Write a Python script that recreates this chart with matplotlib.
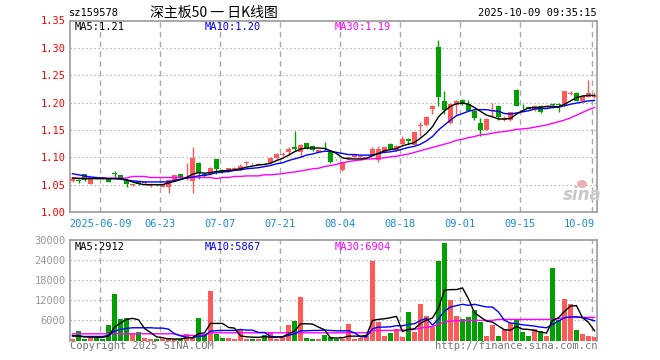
import matplotlib
matplotlib.use("Agg")
import matplotlib.pyplot as plt
import numpy as np

# ---------------- data ----------------
dates = ['2025-06-09', '06-23', '07-07', '07-21', '08-04', '08-18', '09-01', '09-15', '10-09']
date_idx = [5, 15, 25, 35, 45, 55, 65, 75, 87]

opens = [1.057, 1.058, 1.069, 1.052, 1.062, 1.063, 1.061, 1.070, 1.067, 1.059,
         1.049, 1.056, 1.053, 1.047, 1.050, 1.046, 1.045, 1.058, 1.069, 1.061,
         1.056, 1.090, 1.070, 1.069, 1.096, 1.077, 1.075, 1.078, 1.078, 1.089,
         1.088, 1.086, 1.088, 1.090, 1.098, 1.105, 1.109, 1.118, 1.109, 1.126,
         1.121, 1.110, 1.117, 1.109, 1.097, 1.077, 1.098, 1.101, 1.100, 1.098,
         1.103, 1.095, 1.110, 1.124, 1.112, 1.124, 1.133, 1.123, 1.157, 1.159,
         1.188, 1.301, 1.203, 1.163, 1.196, 1.204, 1.198, 1.185, 1.162, 1.150,
         1.184, 1.194, 1.168, 1.168, 1.223, 1.194, 1.191, 1.188, 1.194, 1.192,
         1.197, 1.196, 1.196, 1.216, 1.217, 1.203, 1.211, 1.210]
highs = [1.062, 1.059, 1.070, 1.061, 1.063, 1.064, 1.062, 1.075, 1.068, 1.060,
         1.052, 1.057, 1.056, 1.050, 1.051, 1.052, 1.060, 1.068, 1.070, 1.090,
         1.118, 1.091, 1.071, 1.082, 1.097, 1.078, 1.081, 1.083, 1.088, 1.093,
         1.089, 1.089, 1.090, 1.100, 1.107, 1.109, 1.118, 1.148, 1.124, 1.127,
         1.122, 1.114, 1.128, 1.110, 1.097, 1.093, 1.101, 1.105, 1.104, 1.101,
         1.119, 1.120, 1.119, 1.126, 1.122, 1.139, 1.136, 1.147, 1.164, 1.176,
         1.195, 1.315, 1.221, 1.199, 1.205, 1.206, 1.205, 1.186, 1.171, 1.171,
         1.200, 1.195, 1.175, 1.183, 1.224, 1.197, 1.192, 1.195, 1.195, 1.196,
         1.200, 1.200, 1.222, 1.221, 1.220, 1.213, 1.241, 1.220]
lows = [1.055, 1.053, 1.056, 1.051, 1.060, 1.061, 1.054, 1.064, 1.062, 1.046,
        1.048, 1.049, 1.052, 1.046, 1.048, 1.045, 1.034, 1.057, 1.062, 1.058,
        1.035, 1.060, 1.064, 1.068, 1.069, 1.072, 1.074, 1.077, 1.077, 1.086,
        1.087, 1.085, 1.086, 1.089, 1.097, 1.102, 1.102, 1.112, 1.101, 1.116,
        1.112, 1.109, 1.114, 1.090, 1.095, 1.075, 1.097, 1.100, 1.099, 1.097,
        1.102, 1.092, 1.109, 1.115, 1.111, 1.123, 1.125, 1.122, 1.139, 1.158,
        1.179, 1.193, 1.180, 1.160, 1.177, 1.196, 1.184, 1.168, 1.138, 1.149,
        1.174, 1.168, 1.166, 1.167, 1.193, 1.188, 1.188, 1.184, 1.181, 1.190,
        1.190, 1.182, 1.195, 1.213, 1.202, 1.202, 1.210, 1.208]
closes = [1.060, 1.056, 1.058, 1.060, 1.061, 1.062, 1.055, 1.069, 1.063, 1.051,
          1.050, 1.051, 1.055, 1.048, 1.049, 1.051, 1.058, 1.067, 1.063, 1.064,
          1.099, 1.071, 1.066, 1.081, 1.078, 1.073, 1.080, 1.080, 1.084, 1.090,
          1.087, 1.088, 1.087, 1.099, 1.106, 1.106, 1.115, 1.115, 1.123, 1.117,
          1.113, 1.113, 1.115, 1.092, 1.096, 1.092, 1.100, 1.104, 1.103, 1.100,
          1.115, 1.116, 1.118, 1.116, 1.121, 1.133, 1.130, 1.146, 1.159, 1.174,
          1.194, 1.211, 1.187, 1.197, 1.203, 1.197, 1.185, 1.171, 1.150, 1.170,
          1.186, 1.173, 1.171, 1.182, 1.194, 1.193, 1.189, 1.193, 1.182, 1.193,
          1.196, 1.195, 1.221, 1.217, 1.203, 1.212, 1.218, 1.214]

ma5 = [1.062, 1.061, 1.061, 1.061, 1.061, 1.061, 1.061, 1.061, 1.061, 1.059,
       1.055, 1.052, 1.050, 1.050, 1.050, 1.050, 1.053, 1.056, 1.059, 1.063,
       1.069, 1.072, 1.071, 1.072, 1.074, 1.075, 1.076, 1.077, 1.079, 1.082,
       1.084, 1.086, 1.087, 1.089, 1.094, 1.098, 1.104, 1.110, 1.115, 1.117,
       1.117, 1.117, 1.116, 1.112, 1.107, 1.099, 1.097, 1.097, 1.097, 1.098,
       1.103, 1.107, 1.112, 1.114, 1.116, 1.121, 1.124, 1.127, 1.135, 1.144,
       1.156, 1.174, 1.185, 1.193, 1.198, 1.199, 1.197, 1.191, 1.184, 1.177,
       1.174, 1.170, 1.170, 1.171, 1.179, 1.185, 1.190, 1.191, 1.191, 1.193,
       1.193, 1.192, 1.197, 1.203, 1.209, 1.212, 1.213, 1.213]
ma10 = [1.070, 1.068, 1.066, 1.064, 1.063, 1.062, 1.061, 1.061, 1.060, 1.058,
        1.057, 1.056, 1.055, 1.055, 1.055, 1.055, 1.055, 1.058, 1.060, 1.062,
        1.064, 1.066, 1.067, 1.069, 1.072, 1.073, 1.074, 1.076, 1.077, 1.079,
        1.080, 1.081, 1.083, 1.085, 1.088, 1.090, 1.094, 1.097, 1.100, 1.104,
        1.106, 1.109, 1.111, 1.111, 1.109, 1.107, 1.105, 1.105, 1.104, 1.104,
        1.104, 1.107, 1.109, 1.110, 1.112, 1.115, 1.118, 1.120, 1.124, 1.130,
        1.138, 1.150, 1.159, 1.168, 1.176, 1.180, 1.184, 1.187, 1.187, 1.187,
        1.185, 1.184, 1.180, 1.179, 1.181, 1.183, 1.185, 1.188, 1.189, 1.189,
        1.191, 1.192, 1.194, 1.197, 1.199, 1.201, 1.203, 1.204]
ma30 = [1.062, 1.062, 1.062, 1.062, 1.062, 1.062, 1.062, 1.062, 1.062, 1.062,
        1.065, 1.065, 1.065, 1.063, 1.063, 1.063, 1.063, 1.063, 1.063, 1.063,
        1.063, 1.063, 1.063, 1.063, 1.061, 1.063, 1.063, 1.065, 1.065, 1.066,
        1.066, 1.066, 1.068, 1.068, 1.069, 1.070, 1.072, 1.073, 1.075, 1.077,
        1.079, 1.080, 1.083, 1.085, 1.087, 1.090, 1.092, 1.094, 1.095, 1.097,
        1.097, 1.098, 1.099, 1.101, 1.102, 1.104, 1.106, 1.109, 1.112, 1.115,
        1.118, 1.121, 1.124, 1.127, 1.131, 1.133, 1.136, 1.138, 1.141, 1.142,
        1.144, 1.146, 1.147, 1.149, 1.151, 1.152, 1.153, 1.155, 1.157, 1.159,
        1.162, 1.165, 1.168, 1.172, 1.177, 1.182, 1.187, 1.191]

volumes = [400, 2700, 300, 600, 800, 300, 4500, 13900, 6300, 6600,
           1900, 2500, 600, 400, 300, 300, 800, 400, 400, 2000,
           600, 6700, 1600, 14800, 1900, 600, 800, 400, 3300, 400,
           300, 400, 1500, 2300, 500, 900, 4600, 5800, 13000, 700,
           400, 300, 1600, 1100, 500, 500, 4800, 300, 600, 1300,
           23800, 5500, 1300, 2300, 3300, 1000, 8500, 2500, 10900, 7300,
           4000, 23800, 29000, 12100, 7300, 6300, 7000, 9100, 5500, 1300,
           4600, 1300, 3300, 5300, 6500, 2500, 1300, 3300, 2700, 1300,
           21500, 6200, 12300, 10800, 3000, 1900, 1300, 1100]
vma5 = [1500, 1300, 1100, 1000, 960, 940, 1300, 4000, 5200, 6300,
        6600, 6200, 3600, 2400, 1100, 800, 500, 450, 450, 800,
        850, 2000, 2300, 5100, 5100, 5100, 3900, 3700, 1400, 1100,
        1000, 950, 1150, 1000, 1000, 1100, 1950, 2800, 4950, 5000,
        4900, 4000, 3200, 800, 750, 800, 1300, 1300, 1300, 1500,
        6000, 6300, 6500, 6800, 7200, 2700, 3300, 3500, 5100, 6100,
        6700, 9700, 15000, 15200, 15200, 15700, 12400, 8300, 7000, 5800,
        5500, 4300, 3200, 3100, 4200, 3400, 3300, 3000, 2500, 2200,
        6000, 6800, 8700, 10300, 10400, 6800, 5400, 2912]
vma10 = [1300, 1300, 1200, 1200, 1200, 1200, 1500, 2800, 3300, 3600,
         3800, 3800, 3800, 3800, 3700, 3700, 3400, 2000, 1400, 960,
         830, 1250, 1350, 2800, 2950, 3000, 3000, 3000, 3300, 3100,
         3100, 2400, 2400, 1200, 1100, 1100, 1500, 2000, 2900, 2900,
         3000, 3000, 3100, 3000, 2900, 2900, 2900, 2300, 1100, 1100,
         3500, 4000, 4000, 4100, 4400, 4400, 4800, 5000, 6000, 6600,
         4600, 6400, 8800, 10000, 10400, 10800, 10500, 10800, 10400, 10000,
         10000, 8500, 6000, 5200, 5000, 4700, 4500, 4300, 4000, 3800,
         4800, 5800, 6800, 7000, 7100, 6800, 6400, 5867]
vma30 = [2000, 2000, 2000, 2000, 2000, 2000, 2000, 2000, 2000, 2000,
         2000, 2000, 2000, 2000, 2000, 2000, 2000, 2000, 1500, 1500,
         1500, 1500, 1800, 2300, 2300, 2300, 2300, 2300, 2300, 2300,
         2300, 2300, 2300, 2300, 2300, 2300, 2300, 2300, 2300, 2300,
         2300, 2300, 2300, 2300, 2300, 2300, 2300, 2300, 2300, 2300,
         3000, 3000, 3000, 3000, 3100, 3100, 3100, 3300, 3700, 4000,
         4200, 4900, 5500, 5800, 5900, 6000, 6000, 6000, 6000, 6000,
         6000, 6300, 6300, 6300, 6300, 6300, 6300, 6300, 6300, 6300,
         6300, 6500, 6900, 7000, 6900, 6900, 6900, 6904]

price_ticks = [1.00, 1.05, 1.10, 1.15, 1.20, 1.25, 1.30, 1.35]
vol_ticks = [6000, 12000, 18000, 24000, 30000]

# ---------------- styling ----------------
RED = '#ff5a5a'
GREEN = '#00a000'
GRID = '#aaaaaa'
FRAME = '#999999'
MONO = 'DejaVu Sans Mono'
CJK = ['Noto Sans CJK SC', 'DejaVu Sans']

W, H = 660, 360
fig = plt.figure(figsize=(6.6, 3.6), dpi=100)
fig.patch.set_facecolor('white')

def fx(px):
    return px / W

def fy(py):
    return 1 - py / H

L, R = 70, 597
ax = fig.add_axes([fx(L), fy(212), fx(R - L), (212 - 20.5) / H])
axv = fig.add_axes([fx(L), fy(340.5), fx(R - L), (340.5 - 240) / H])

n = len(closes)
x = np.arange(n)
xlim = ((L - 72.5) / 6.0, (R - 72.5) / 6.0)
grid_x = [d - 0.37 for d in date_idx]

o = np.array(opens); c = np.array(closes); h = np.array(highs); lo = np.array(lows)
up = c >= o
cols = [RED if u else GREEN for u in up]

# ---- frames and grids ----
for a in (ax, axv):
    a.set_xlim(*xlim)
    for s in a.spines.values():
        s.set_color(FRAME)
        s.set_linewidth(1.2)
    a.tick_params(length=0)
    a.set_xticks([])
    for gx in grid_x:
        a.axvline(gx, color=GRID, lw=1.0, ls=(0, (4, 3)), zorder=0)

# ---- price panel ----
ax.set_ylim(1.0, 1.35)
for yv in price_ticks[1:-1]:
    ax.axhline(yv, color=GRID, lw=0.8, ls=(0, (1.2, 2.4)), zorder=0)
ax.set_yticks(price_ticks)
ax.set_yticklabels(['%.2f' % v for v in price_ticks], color='red',
                   fontsize=7.5, family=MONO)
ax.tick_params(axis='y', pad=3)

ax.vlines(x, lo, h, colors=cols, lw=1.0, zorder=2)
body_b = np.minimum(o, c)
body_h = np.maximum(np.abs(c - o), 0.0015)
ax.bar(x, body_h, bottom=body_b, width=0.78, color=cols, lw=0, zorder=3)

ax.plot(x, ma30, color='#ff00ff', lw=1.0, zorder=4)
ax.plot(x, ma10, color='#0000ff', lw=1.0, zorder=4)
ax.plot(x, ma5, color='black', lw=1.0, zorder=4)

for gx, lab in zip(grid_x, dates):
    if lab == dates[-1]:
        ax.text(xlim[1] - 0.3, -0.035, lab, transform=ax.get_xaxis_transform(),
                ha='right', va='top', fontsize=7.5, family=MONO, color='#1a8ad4')
    else:
        ax.text(gx, -0.035, lab, transform=ax.get_xaxis_transform(),
                ha='center', va='top', fontsize=7.5, family=MONO, color='#1a8ad4')

fig.text(fx(75), fy(27), 'MA5:%.2f' % ma5[-1], ha='left', va='center',
         fontsize=7.5, family=MONO, color='black')
fig.text(fx(205), fy(27), 'MA10:%.2f' % ma10[-1], ha='left', va='center',
         fontsize=7.5, family=MONO, color='#0000ff')
fig.text(fx(335), fy(27), 'MA30:%.2f' % ma30[-1], ha='left', va='center',
         fontsize=7.5, family=MONO, color='#ff00ff')

# watermark
fig.text(fx(582), fy(195), 'sina', ha='center', va='center', fontsize=12,
         style='italic', weight='bold', color='#c8c8c8', family='DejaVu Sans')
fig.patches.append(matplotlib.patches.Ellipse((fx(582), fy(184)), 10 / W, 8 / H,
                   transform=fig.transFigure, facecolor='#f0b0b0', edgecolor='none'))

# ---- volume panel ----
axv.set_ylim(0, 30000)
axv.spines['bottom'].set_visible(False)
for yv in vol_ticks[:-1]:
    axv.axhline(yv, color=GRID, lw=0.8, ls=(0, (1.2, 2.4)), zorder=0)
axv.set_yticks(vol_ticks)
axv.set_yticklabels([str(v) for v in vol_ticks], color='#999999',
                    fontsize=7.5, family=MONO)
axv.tick_params(axis='y', pad=3)
axv.bar(x, volumes, width=0.78, color=cols, lw=0, zorder=2)
axv.plot(x, vma30, color='#ff00ff', lw=1.0, zorder=3)
axv.plot(x, vma10, color='#0000ff', lw=1.0, zorder=3)
axv.plot(x, vma5, color='black', lw=1.0, zorder=3)

fig.text(fx(75), fy(247), 'MA5:%d' % vma5[-1], ha='left', va='center',
         fontsize=7.5, family=MONO, color='black')
fig.text(fx(205), fy(247), 'MA10:%d' % vma10[-1], ha='left', va='center',
         fontsize=7.5, family=MONO, color='#0000ff')
fig.text(fx(335), fy(247), 'MA30:%d' % vma30[-1], ha='left', va='center',
         fontsize=7.5, family=MONO, color='#ff00ff')

fig.text(fx(70), fy(346), 'Copyright 2025 SINA.COM', ha='left', va='center',
         fontsize=7.5, family=MONO, color='#777777')
fig.text(fx(597), fy(346), 'http://finance.sina.com.cn', ha='right', va='center',
         fontsize=7.5, family=MONO, color='#777777')

# ---- header ----
fig.text(fx(69), fy(13), 'sz159578', ha='left', va='center', fontsize=7.5,
         family=MONO, color='black')
fig.text(fx(150), fy(13), '深主板50 一 日K线图', ha='left', va='center',
         fontsize=10, family=CJK, color='black')
fig.text(fx(597), fy(13), '2025-10-09 09:35:15', ha='right', va='center',
         fontsize=7.5, family=MONO, color='black')

fig.savefig('out.png', dpi=100, facecolor='white')
